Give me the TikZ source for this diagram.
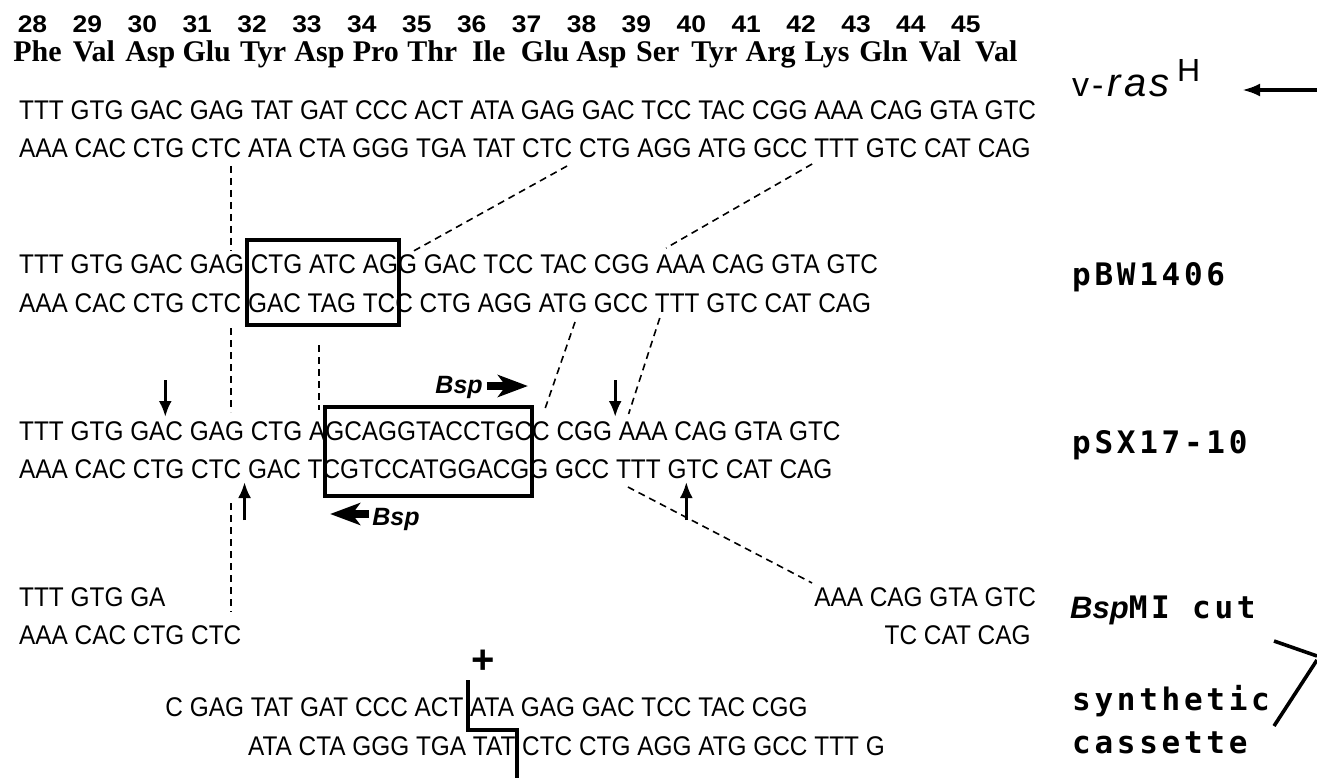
\documentclass[tikz,border=0pt]{standalone}
\usepackage{fontspec}
\usetikzlibrary{arrows.meta,calc}
\newfontfamily\dnaf{Liberation Sans}[FakeStretch=0.903]
\newfontfamily\numf{Liberation Sans}[FakeStretch=1.1]
\newfontfamily\aaf{Liberation Serif}
\newfontfamily\labf{DejaVu Sans Mono}[LetterSpace=12]
\newfontfamily\helv{Liberation Sans}
\newfontfamily\helvls{Liberation Sans}[LetterSpace=8]
\newcommand\dnafont{\dnaf\fontsize{27}{30}\selectfont}
\newlength\wtmp
\newcommand\setw[2]{\settowidth{\wtmp}{\dnafont #2}\pgfmathsetmacro#1{19+\wtmp}}
\begin{document}
% widths of prefixes (measured outside the picture, where fonts are active)
\setw\xA{AAA CAC CTG CTC}
\setw\xAs{AAA CAC CTG CTC }
\setw\xBL{TTT GTG GAC GAG}
\setw\xBLs{TTT GTG GAC GAG }
\setw\xBR{TTT GTG GAC GAG CTG ATC AG}
\setw\xSL{TTT GTG GAC GAG CTG A}
\setw\xSR{TTT GTG GAC GAG CTG AGCAGGTACCTGC}
\setw\xCutA{TTT GTG GA}
\setw\xCutB{TTT GTG GAC GAG CTG AGCAGGTACCTGCC CGG}
\setw\xCutBs{TTT GTG GAC GAG CTG AGCAGGTACCTGCC CGG }
\setw\xCutD{AAA CAC CTG CTC GAC TCGTCCATGGACGG GCC TTT G}
\setw\xVctc{AAA CAC CTG CTC ATA CTA GGG TGA TAT CTC}
\setw\xVttt{AAA CAC CTG CTC ATA CTA GGG TGA TAT CTC CTG AGG ATG GCC }
\setw\xBaaa{TTT GTG GAC GAG CTG ATC AGG GAC TCC TAC CGG }
\setw\xBatg{AAA CAC CTG CTC GAC TAG TCC CTG AGG ATG}
\setw\xBttt{AAA CAC CTG CTC GAC TAG TCC CTG AGG ATG GCC }
\setw\xSttt{AAA CAC CTG CTC GAC TCGTCCATGGACGG GCC }
\setw\xKL{TTT GTG GAC GAG TAT GAT CCC ACT }
\setw\xKR{AAA CAC CTG CTC ATA CTA GGG TGA TAT}
\begin{tikzpicture}[x=1pt,y=-1pt,
  dna/.style={font=\dnafont, inner sep=0pt, anchor=base west},
  num/.style={font=\numf\bfseries\fontsize{24}{26}\selectfont, inner sep=0pt, anchor=base},
  aa/.style={font=\aaf\bfseries\fontsize{30}{32}\selectfont, inner sep=0pt, anchor=base},
  lab/.style={font=\labf\bfseries\fontsize{31}{34}\selectfont, inner sep=0pt, anchor=base west},
  dsh/.style={line width=1.6pt, dash pattern=on 7pt off 5pt},
  boxln/.style={line width=3.6pt},
  cutarr/.style={line width=3pt, -{Latex[length=16pt,width=13pt]}},
  fatarr/.style={line width=8pt, -{Stealth[length=30pt,width=22pt,inset=8pt]}},
  bsp/.style={font=\helv\bfseries\itshape\fontsize{25}{27}\selectfont, inner sep=0pt},
  thk/.style={line width=3.6pt}
]
\useasboundingbox (0,0) rectangle (1317,778);

% header
\foreach \n [count=\k from 0] in {28,...,45} {
  \pgfmathsetmacro\cx{37.5+\k*56.4-5-1.5*\k}
  \node[num] (n\n) at (\cx,33) {\n};
}
\foreach \a [count=\k from 0] in {Phe,Val,Asp,Glu,Tyr,Asp,Pro,Thr,Ile,Glu,Asp,Ser,Tyr,Arg,Lys,Gln,Val,Val} {
  \pgfmathsetmacro\cx{37.5+\k*56.4}
  \node[aa] (aa\k) at (\cx,62) {\a};
}

% sequences
\node[dna] (v1) at (19,120) {TTT GTG GAC GAG TAT GAT CCC ACT ATA GAG GAC TCC TAC CGG AAA CAG GTA GTC};
\node[dna] (v2) at (19,158) {AAA CAC CTG CTC ATA CTA GGG TGA TAT CTC CTG AGG ATG GCC TTT GTC CAT CAG};
\node[dna] (b1) at (19,273) {TTT GTG GAC GAG CTG ATC AGG GAC TCC TAC CGG AAA CAG GTA GTC};
\node[dna] (b2) at (19,312) {AAA CAC CTG CTC GAC TAG TCC CTG AGG ATG GCC TTT GTC CAT CAG};
\node[dna] (s1) at (19,440) {TTT GTG GAC GAG CTG AGCAGGTACCTGCC CGG AAA CAG GTA GTC};
\node[dna] (s2) at (19,478) {AAA CAC CTG CTC GAC TCGTCCATGGACGG GCC TTT GTC CAT CAG};
\node[dna] (c1) at (19,606) {TTT GTG GA};
\node[dna] (c2) at (19,644) {AAA CAC CTG CTC};
\node[dna, anchor=base east] (c1r) at (v1.base east |- c1.base) {AAA CAG GTA GTC};
\node[dna, anchor=base east] (c2r) at (v2.base east |- c2.base) {TC CAT CAG};
\node[dna] (k1) at (\xCutA,716) {C GAG TAT GAT CCC ACT ATA GAG GAC TCC TAC CGG};
\node[dna] (k2) at (\xAs,755) {ATA CTA GGG TGA TAT CTC CTG AGG ATG GCC TTT G};

% labels
\node[inner sep=0pt, anchor=base west, font=\helv\fontsize{34}{36}\selectfont] (lv) at (1072,97) {v\kern3pt-\kern4pt};
\node[inner sep=0pt, anchor=base west, font=\helvls\itshape\fontsize{40}{42}\selectfont] (lras) at (lv.base east) {ras};
\node[inner sep=0pt, anchor=base west, font=\helv\fontsize{32}{34}\selectfont] (lH) at (1177,82) {H};
\node[lab] (lpbw) at (1072,285) {pBW1406};
\node[lab] (lpsx) at (1072,453) {pSX17-10};
\node[lab] (lbsp) at (1070,618) {{\helv\itshape\fontsize{31}{33}\selectfont Bsp}MI cut};
\node[lab] (lsyn) at (1072,710) {synthetic};
\node[lab] (lcas) at (1072,753) {cassette};

% v-ras arrow
\coordinate (va1) at (1317,90);
\coordinate (va2) at (1242,90);
\draw[line width=3.5pt,-{Latex[length=18pt,width=13pt]}] (va1) -- (va2);

% boxes
\coordinate (pbwTL) at ({(\xBL+\xBLs)/2},240);
\coordinate (pbwBR) at ({\xBR+1},325);
\draw[boxln] (pbwTL) rectangle (pbwBR);
\coordinate (psxTL) at (\xSL,407);
\coordinate (psxBR) at (\xSR,496);
\draw[boxln] (psxTL) rectangle (psxBR);

% Bsp arrows
\node[bsp, anchor=base east] (bspT) at ({\xSR-49},393) {Bsp};
\coordinate (fa1s) at ({\xSR-45},386);
\coordinate (fa1e) at ({\xSR-4},386);
\draw[fatarr] (fa1s) -- (fa1e);
\node[bsp, anchor=base west] (bspB) at ({\xSL+47},525) {Bsp};
\coordinate (fa2s) at ({\xSL+44},514);
\coordinate (fa2e) at ({\xSL+5},514);
\draw[fatarr] (fa2s) -- (fa2e);

% cut arrows
\coordinate (ca1s) at (\xCutA,380);
\coordinate (ca1e) at (\xCutA,417);
\draw[cutarr] (ca1s) -- (ca1e);
\coordinate (ca2s) at ({(\xCutB+\xCutBs)/2},380);
\coordinate (ca2e) at ({(\xCutB+\xCutBs)/2},417);
\draw[cutarr] (ca2s) -- (ca2e);
\coordinate (ca3s) at ({(\xA+\xAs)/2},520);
\coordinate (ca3e) at ({(\xA+\xAs)/2},482);
\draw[cutarr] (ca3s) -- (ca3e);
\coordinate (ca4s) at (\xCutD,520);
\coordinate (ca4e) at (\xCutD,482);
\draw[cutarr] (ca4s) -- (ca4e);

% dashed correspondences
\coordinate (d1a) at ({\xA-10},166);
\coordinate (d1b) at ({\xA-10},251);
\draw[dsh] (d1a) -- (d1b);
\coordinate (d2a) at ({\xA-10},328);
\coordinate (d2b) at ({\xA-10},412);
\draw[dsh] (d2a) -- (d2b);
\coordinate (d3a) at ({\xA-10},503);
\coordinate (d3b) at ({\xA-10},612);
\draw[dsh] (d3a) -- (d3b);
\coordinate (d4a) at ({\xSL-6},345);
\coordinate (d4b) at ({\xSL-6},410);
\draw[dsh] (d4a) -- (d4b);
\coordinate (d5a) at ({\xVctc-5},166);
\coordinate (d5b) at ({\xBR+14},252);
\draw[dsh] (d5a) -- (d5b);
\coordinate (d6a) at ({\xVttt-2},164);
\coordinate (d6b) at ({\xBaaa+10},248);
\draw[dsh] (d6a) -- (d6b);
\coordinate (d7a) at ({\xBatg-12},322);
\coordinate (d7b) at ({\xSR+12},412);
\draw[dsh] (d7a) -- (d7b);
\coordinate (d8a) at ({\xBttt+5},318);
\coordinate (d8b) at ({\xCutBs+10},414);
\draw[dsh] (d8a) -- (d8b);
\coordinate (d9a) at ({\xSttt+12},487);
\coordinate (d9b) at ($(c1r.base west)+(-2,-23)$);
\draw[dsh] (d9a) -- (d9b);

% junction of cassette
\node[font=\helv\bfseries\fontsize{40}{42}\selectfont, inner sep=0pt] (plus) at ({(\xKL+\xKR)/2-9},662) {+};
\coordinate (j1) at ({\xKL-2},680);
\coordinate (j2) at ({\xKL-2},730);
\coordinate (j3) at ({\xKR+2},730);
\coordinate (j4) at ({\xKR+2},778);
\draw[thk] (j1) -- (j2) -- (j3) -- (j4);

% right bracket lines
\coordinate (br1) at (1274,641);
\coordinate (br2) at (1317,656);
\coordinate (br3) at (1274,726);
\coordinate (br4) at (1317,660);
\draw[thk] (br1) -- (br2);
\draw[thk] (br3) -- (br4);
\end{tikzpicture}
\end{document}
